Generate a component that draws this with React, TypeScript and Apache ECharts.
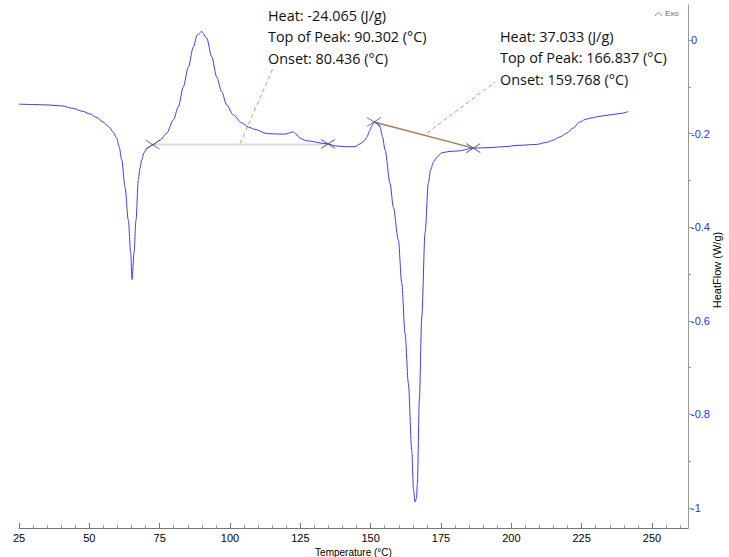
import React, { useEffect, useRef } from "react";
import * as echarts from "echarts";

// DSC curve: temperature (°C) vs heat flow (W/g)
const temperature = [
  25.0, 30.69, 36.02, 40.29, 44.2, 47.4, 50.24, 52.73, 54.86, 56.64, 57.35, 58.42, 59.73, 60.6,
  61.51, 62.68, 63.86, 64.71, 65.17, 65.88, 66.59, 67.41, 68.01, 68.62, 69.44, 70.4, 72.53,
  75.13, 77.51, 79.85, 81.63, 83.41, 85.19, 86.96, 88.38, 89.95, 91.73, 93.51, 95.28, 97.06,
  98.84, 101.18, 104.17, 106.52, 108.9, 113.06, 117.79, 119.92, 121.34, 122.41, 123.47, 124.89,
  127.03, 129.62, 132.0, 134.85, 137.34, 140.89, 144.44, 146.22, 147.64, 148.71, 149.6, 150.38,
  151.2, 152.27, 153.33, 154.22, 155.11, 156.89, 158.06, 159.84, 161.05, 162.22, 163.4, 164.6,
  165.24, 165.78, 166.31, 166.6, 167.31, 168.16, 169.34, 170.5, 171.29, 172.28, 173.6, 175.27,
  178.22, 181.17, 186.5, 192.44, 197.06, 203.11, 209.04, 212.35, 214.84, 217.33, 219.71, 221.95,
  224.44, 226.21, 227.99, 231.54, 235.1, 238.66, 241.6,
];
const heatFlow = [
  -0.137, -0.138, -0.139, -0.141, -0.146, -0.152, -0.158, -0.166, -0.175, -0.184, -0.188, -0.197,
  -0.209, -0.228, -0.256, -0.314, -0.385, -0.455, -0.512, -0.455, -0.385, -0.299, -0.274, -0.256,
  -0.241, -0.231, -0.224, -0.214, -0.199, -0.171, -0.143, -0.1, -0.058, -0.015, 0.011, 0.018,
  0.004, -0.036, -0.079, -0.111, -0.139, -0.16, -0.177, -0.186, -0.191, -0.2, -0.201, -0.201,
  -0.198, -0.196, -0.201, -0.21, -0.215, -0.217, -0.22, -0.222, -0.226, -0.228, -0.228, -0.222,
  -0.216, -0.207, -0.194, -0.184, -0.175, -0.177, -0.186, -0.207, -0.235, -0.306, -0.357, -0.427,
  -0.519, -0.626, -0.733, -0.876, -0.962, -0.987, -0.979, -0.947, -0.769, -0.592, -0.412, -0.306,
  -0.278, -0.261, -0.25, -0.241, -0.238, -0.237, -0.231, -0.23, -0.228, -0.225, -0.223, -0.219,
  -0.214, -0.207, -0.199, -0.188, -0.175, -0.17, -0.167, -0.163, -0.16, -0.157, -0.153,
];

// analysis markers (X) and baselines
const markerTemps = [72.53, 134.85, 151.2, 186.5];
const markerFlows = [-0.224, -0.222, -0.175, -0.231];
const baseline1Temps = [72.53, 134.85];
const baseline1Flows = [-0.2235, -0.2235];
const baseline2Temps = [151.2, 186.5];
const baseline2Flows = [-0.175, -0.231];
const leader1Temps = [103.6, 115.6];
const leader1Flows = [-0.221, -0.056];
const leader2Temps = [170.0, 194.2];
const leader2Flows = [-0.199, -0.09];

// axes
const xMin = 25;
const xMax = 262.8;
const yMin = -1.0427;
const yMax = 0.0748;
const xTickValues = [25, 50, 75, 100, 125, 150, 175, 200, 225, 250];
const xMinorTickValues = [
  30, 35, 40, 45, 55, 60, 65, 70, 80, 85, 90, 95, 105, 110, 115, 120, 130, 135, 140, 145, 155,
  160, 165, 170, 180, 185, 190, 195, 205, 210, 215, 220, 230, 235, 240, 245, 255, 260,
];
const yTickValues = [0, -0.2, -0.4, -0.6, -0.8, -1];
const yMinorTickValues = [-0.1, -0.3, -0.5, -0.7, -0.9];
const yAxisTitle = "HeatFlow (W/g)";
const xAxisTitle = "Temperature (°C)";

const peak1Text = ["Heat: -24.065 (J/g)", "Top of Peak: 90.302 (°C)", "Onset: 80.436 (°C)"];
const peak2Text = ["Heat: 37.033 (J/g)", "Top of Peak: 166.837 (°C)", "Onset: 159.768 (°C)"];

const zip = (a: number[], b: number[]) => a.map((v, i) => [v, b[i]]);

export default function App() {
  const ref = useRef<HTMLDivElement>(null);
  useEffect(() => {
    document.body.style.margin = "0";
    const chart = echarts.init(ref.current!, null, { renderer: "svg" });
    const annoFont = "'Open Sans', 'Liberation Sans', sans-serif";
    const textLines = (lines: string[], x: number, y0: number) =>
      lines.map((t, i) => ({
        type: "text",
        x,
        y: y0 + i * 21.5,
        style: {
          text: t,
          fill: "#111",
          font: `14.4px ${annoFont}`,
          textVerticalAlign: "middle",
          textAlign: "left",
        },
      }));
    chart.setOption({
      animation: false,
      backgroundColor: "#fff",
      grid: {
        left: 19,
        right: 41,
        top: 5,
        bottom: 29,
        containLabel: false,
        outerBoundsMode: "none",
      },
      xAxis: [
        {
          type: "value",
          min: xMin,
          max: xMax,
          position: "bottom",
          name: xAxisTitle,
          nameLocation: "middle",
          nameGap: 18,
          nameTextStyle: { color: "#000", fontSize: 10, fontFamily: "Liberation Sans" },
          axisLine: { show: true, onZero: false, lineStyle: { color: "#777", width: 1 } },
          axisTick: {
            show: true,
            inside: true,
            length: 5,
            customValues: xTickValues,
            lineStyle: { color: "#777" },
          },
          axisLabel: {
            show: true,
            customValues: xTickValues,
            color: "#000",
            fontSize: 11,
            fontFamily: "Liberation Sans",
            margin: 4,
          },
          splitLine: { show: false },
        },
        {
          type: "value",
          min: xMin,
          max: xMax,
          position: "bottom",
          axisLine: { show: false, onZero: false },
          axisTick: {
            show: true,
            inside: true,
            length: 3,
            customValues: xMinorTickValues,
            lineStyle: { color: "#999" },
          },
          axisLabel: { show: false },
          splitLine: { show: false },
        },
      ],
      yAxis: [
        {
          type: "value",
          min: yMin,
          max: yMax,
          position: "right",
          axisLine: { show: true, onZero: false, lineStyle: { color: "#999", width: 1 } },
          axisTick: {
            show: true,
            inside: false,
            length: 5,
            customValues: yTickValues,
            lineStyle: { color: "#999" },
          },
          axisLabel: {
            show: true,
            customValues: yTickValues,
            color: "#2b2bff",
            fontSize: 11,
            fontFamily: "Liberation Sans",
            margin: 3,
          },
          splitLine: { show: false },
        },
        {
          type: "value",
          min: yMin,
          max: yMax,
          position: "right",
          axisLine: { show: false, onZero: false },
          axisTick: {
            show: true,
            inside: false,
            length: 3,
            customValues: yMinorTickValues,
            lineStyle: { color: "#999" },
          },
          axisLabel: { show: false },
          splitLine: { show: false },
        },
      ],
      series: [
        {
          type: "line",
          data: zip(baseline1Temps, baseline1Flows),
          showSymbol: false,
          lineStyle: { color: "#e6dcd6", width: 2 },
          silent: true,
          z: 1,
        },
        {
          type: "line",
          data: zip(baseline2Temps, baseline2Flows),
          showSymbol: false,
          lineStyle: { color: "#a87c50", width: 1.5 },
          silent: true,
          z: 1,
        },
        {
          type: "line",
          data: zip(leader1Temps, leader1Flows),
          showSymbol: false,
          lineStyle: { color: "#f08a8a", width: 1, type: [4, 3] },
          silent: true,
          z: 1,
        },
        {
          type: "line",
          data: zip(leader2Temps, leader2Flows),
          showSymbol: false,
          lineStyle: { color: "#f08a8a", width: 1, type: [4, 3] },
          silent: true,
          z: 1,
        },
        {
          type: "line",
          data: zip(temperature, heatFlow),
          showSymbol: false,
          smooth: 0.3,
          smoothMonotone: "x",
          lineStyle: { color: "#3c3cf5", width: 1 },
          z: 2,
        },
        {
          type: "scatter",
          data: zip(markerTemps, markerFlows),
          symbol: "path://M0,0L14,9M14,0L0,9",
          symbolSize: [14, 9],
          itemStyle: { color: "rgba(0,0,0,0)", borderColor: "#555", borderWidth: 1 },
          z: 3,
        },
      ],
      graphic: [
        ...textLines(peak1Text, 268, 15),
        ...textLines(peak2Text, 500, 36),
        {
          type: "text",
          x: 717,
          y: 270,
          rotation: Math.PI / 2,
          style: {
            text: yAxisTitle,
            fill: "#000",
            font: "11px 'Liberation Sans', sans-serif",
            textAlign: "center",
            textVerticalAlign: "middle",
          },
        },
        {
          type: "polyline",
          shape: { points: [[655, 16], [658.5, 12], [662, 16]] },
          style: { stroke: "#777", lineWidth: 0.8, fill: "none" },
        },
        {
          type: "text",
          x: 665,
          y: 13,
          style: {
            text: "Exo",
            fill: "#666",
            font: "8px 'Liberation Sans', sans-serif",
            textVerticalAlign: "middle",
          },
        },
      ],
    });
    return () => chart.dispose();
  }, []);
  return <div ref={ref} style={{ width: 729, height: 557 }} />;
}
